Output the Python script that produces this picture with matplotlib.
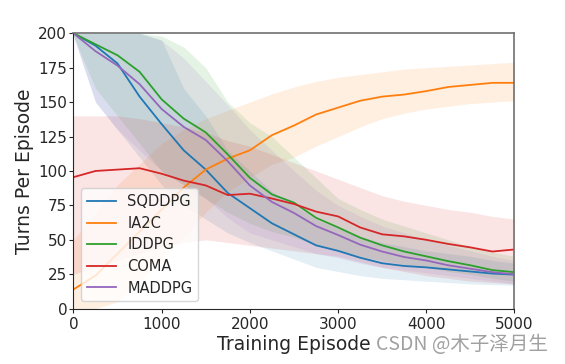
import numpy as np
import matplotlib
matplotlib.use("Agg")
import matplotlib.pyplot as plt

episodes = [0, 250, 500, 750, 1000, 1250, 1500, 1750, 2000, 2250, 2500,
            2750, 3000, 3250, 3500, 3750, 4000, 4250, 4500, 4750, 5000]

labels = ["SQDDPG", "IA2C", "IDDPG", "COMA", "MADDPG"]

sqddpg_mean = [200, 191, 178, 154, 134, 115, 101, 84, 73, 62, 54,
               46, 42, 37, 33, 31, 30, 28.5, 27, 25.5, 24.7]
sqddpg_low = [198, 150, 130, 110, 90, 75, 65, 55, 48, 42, 36,
              30, 27, 24, 22, 21, 20, 19, 18, 17.5, 17]
sqddpg_high = [200, 200, 200, 200, 195, 160, 140, 115, 100, 85, 75,
               65, 58, 52, 48, 45, 42, 40, 38, 35, 33]

ia2c_mean = [14, 24, 40, 56, 72, 88, 101, 109, 115, 126, 133,
             141, 146, 151, 154, 155.5, 158, 161, 162.5, 164, 164]
ia2c_low = [0, 0, 5, 20, 35, 52, 70, 85, 95, 105, 110,
            118, 125, 132, 138, 142, 145, 147, 149, 150, 151]
ia2c_high = [50, 70, 90, 105, 120, 130, 138, 144, 150, 156, 161,
             165, 168, 170, 172, 174, 175, 176, 177, 178, 179]

iddpg_mean = [200, 192, 184, 172, 152, 138, 128, 112, 95, 83, 77,
              66, 59, 51.6, 46, 41.5, 38, 34.5, 31.5, 28, 26.5]
iddpg_low = [198, 160, 140, 120, 100, 90, 80, 70, 62, 56, 52,
             46, 42, 38, 35, 32, 30, 27, 25, 22, 20]
iddpg_high = [200, 200, 200, 200, 198, 190, 175, 150, 135, 125, 110,
              95, 80, 72, 65, 60, 55, 50, 45, 41, 38]

coma_mean = [95.5, 100, 101, 102, 98, 93, 89.5, 82.5, 83.5, 80, 76,
             70.5, 67, 59, 54, 52.5, 50, 47, 44.5, 41.5, 43]
coma_low = [25, 30, 35, 40, 45, 48, 50, 48, 46, 44, 42,
            40, 38, 34, 30, 27, 24, 22, 20, 19, 18]
coma_high = [140, 140, 140, 138, 135, 132, 128, 122, 118, 112, 106,
             100, 94, 88, 82, 78, 75, 72, 70, 67, 65]

maddpg_mean = [200, 187, 176.5, 163, 145, 132, 122.5, 107, 89.5, 77.5, 69.5,
               60, 53.5, 46.5, 41.5, 37.5, 35, 31.5, 29, 26.5, 25]
maddpg_low = [198, 150, 130, 115, 100, 90, 80, 66, 55, 50, 45,
              40, 37, 33, 30, 28, 26, 24, 22, 20, 18]
maddpg_high = [200, 200, 200, 200, 195, 182, 165, 148, 130, 115, 100,
               86, 75, 67, 60, 55, 50, 46, 42, 38, 35]

means = [sqddpg_mean, ia2c_mean, iddpg_mean, coma_mean, maddpg_mean]
lows = [sqddpg_low, ia2c_low, iddpg_low, coma_low, maddpg_low]
highs = [sqddpg_high, ia2c_high, iddpg_high, coma_high, maddpg_high]
colors = ["#1f77b4", "#ff7f0e", "#2ca02c", "#d62728", "#9467bd"]

plt.rcParams['font.family'] = ['DejaVu Sans']
text_color = '#262626'

fig = plt.figure(figsize=(5.65, 3.64), dpi=100)
ax = fig.add_axes([0.130, 0.152, 0.7806, 0.7566])

for m, lo, hi, c, lab in zip(means, lows, highs, colors, labels):
    ax.fill_between(episodes, lo, hi, color=c, alpha=0.12, linewidth=0)
    ax.plot(episodes, m, color=c, linewidth=1.3, label=lab)

ax.set_xlim(0, 5000)
ax.set_ylim(0, 200)
ax.set_xticks([0, 1000, 2000, 3000, 4000, 5000])
ax.set_yticks([0, 25, 50, 75, 100, 125, 150, 175, 200])
ax.tick_params(labelsize=11, colors=text_color, length=3)
ax.tick_params(axis='y', pad=1.5)
ax.tick_params(axis='x', pad=3)
ax.set_xlabel("Training Episode", fontsize=13.5, color=text_color, labelpad=2)
ax.set_ylabel("Turns Per Episode", fontsize=13.5, color=text_color, labelpad=3)

for s in ['left', 'bottom']:
    ax.spines[s].set_color('#262626')
for s in ['top', 'right']:
    ax.spines[s].set_color('#707070')
    ax.spines[s].set_linewidth(1.2)

leg = ax.legend(loc='lower left', fontsize=10.5, labelspacing=0.45)
for t in leg.get_texts():
    t.set_color(text_color)

fig.text(0.97, 0.025, "CSDN @木子泽月生", ha='right', va='bottom', fontsize=14,
         color='#a0a0a0', family=['Noto Sans CJK SC', 'DejaVu Sans'])

fig.savefig("out.png", dpi=100)
